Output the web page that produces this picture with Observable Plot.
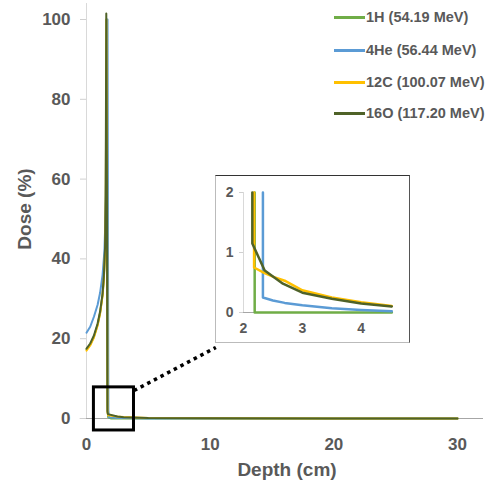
<!DOCTYPE html>
<html>
<head>
<meta charset="utf-8">
<script src="https://cdn.jsdelivr.net/npm/d3@7"></script>
<script src="https://cdn.jsdelivr.net/npm/@observablehq/plot@0.6"></script>
<style>
  html, body { margin: 0; padding: 0; background: #fff; overflow: hidden; }
  #wrap { position: relative; width: 486px; height: 482px; overflow: hidden; font-family: "Liberation Sans", Arial, sans-serif; }
  #main { position: absolute; left: 0; top: 0; }
  .lbl { position: absolute; font-weight: bold; color: #595959; font-size: 19px; white-space: nowrap; }
  #inset { position: absolute; left: 215px; top: 175px; width: 195px; height: 168px; background: #fff; }
  #insetBorder { position: absolute; left: 215px; top: 175px; width: 195px; height: 168px; box-sizing: border-box;
    border-top: 1.5px solid #333; border-right: 1.5px solid #555; border-bottom: 1.5px solid #bbb; border-left: 1.5px solid #bbb; }
  #legend { position: absolute; left: 334px; top: 0; }
  .row { position: absolute; left: 0; height: 20px; white-space: nowrap; }
  .row .sw { position: absolute; left: 0; top: 9px; width: 31px; height: 2.5px; }
  .row .tx { position: absolute; left: 32px; top: 0; font-size: 14.5px; font-weight: bold; color: #595959; line-height: 20px; }
</style>
</head>
<body>
<div id="wrap">
  <div id="main"></div>
  <div class="lbl" id="ylab" style="left:25px; top:209px; transform: translate(-50%,-50%) rotate(-90deg);">Dose (%)</div>
  <div class="lbl" id="xlab" style="left:287px; top:470px; transform: translate(-50%,-50%);">Depth (cm)</div>
  <div id="inset"></div>
  <div id="insetBorder"></div>
  <div id="legend"></div>
</div>
<script>
// ---- series names & colours ----
const seriesNames = ["1H (54.19 MeV)", "4He (56.44 MeV)", "12C (100.07 MeV)", "16O (117.20 MeV)"];
const seriesColors = ["#70AD47", "#5B9BD5", "#FFC000", "#4F6228"];

// ---- main chart: depth (cm) / dose (%) ----
const depthH  = [0, 0.3, 0.6, 0.9, 1.1, 1.3, 1.4, 1.5, 1.56, 1.62, 1.67, 1.71, 1.75, 2, 3, 5, 10, 20, 30];
const doseH   = [17.3, 18.5, 20.5, 23.5, 26.5, 31, 35, 42, 55, 100, 60, 3, 0.3, 0, 0, 0, 0, 0, 0];

const depthHe = [0, 0.3, 0.6, 0.9, 1.1, 1.3, 1.45, 1.55, 1.63, 1.7, 1.74, 1.77, 1.82, 2.5, 3, 5, 10, 20, 30];
const doseHe  = [21.5, 23, 25.5, 28.5, 31.5, 36, 42, 52, 72, 100, 40, 2, 0.3, 0.15, 0.1, 0.03, 0.01, 0, 0];

const depthC  = [0, 0.3, 0.6, 0.9, 1.1, 1.3, 1.4, 1.5, 1.56, 1.61, 1.66, 1.7, 1.75, 2.5, 3, 5, 10, 20, 30];
const doseC   = [17, 18.3, 20.3, 23.3, 26.3, 30.8, 34.8, 41.5, 55, 100, 60, 1.5, 0.8, 0.5, 0.35, 0.12, 0.05, 0.02, 0.01];

const depthO  = [0, 0.3, 0.6, 0.9, 1.1, 1.3, 1.4, 1.5, 1.55, 1.6, 1.65, 1.69, 1.73, 2.5, 3, 5, 10, 20, 30];
const doseO   = [17.5, 18.8, 20.8, 23.8, 26.8, 31.3, 35.5, 43, 56, 101.5, 60, 1.8, 1.1, 0.5, 0.33, 0.1, 0.04, 0.02, 0.01];

// ---- inset: depth (cm) / dose (%) ----
const inDepthH  = [2.19, 2.19, 4.52];
const inDoseH   = [2, 0, 0];
const inDepthHe = [2.33, 2.33, 2.5, 2.7, 3.0, 3.5, 4.0, 4.52];
const inDoseHe  = [2, 0.25, 0.2, 0.16, 0.12, 0.07, 0.04, 0.02];
const inDepthC  = [2.18, 2.18, 2.35, 2.52, 2.7, 3.0, 3.5, 4.0, 4.52];
const inDoseC   = [2, 0.75, 0.66, 0.59, 0.53, 0.37, 0.25, 0.17, 0.11];
const inDepthO  = [2.15, 2.15, 2.36, 2.67, 3.0, 3.5, 4.0, 4.52];
const inDoseO   = [2, 1.15, 0.7, 0.48, 0.33, 0.23, 0.15, 0.1];

// ---- ticks ----
const xTicks = [0, 10, 20, 30];
const yTicks = [0, 20, 40, 60, 80, 100];
const inXTicks = [2, 3, 4];
const inYTicks = [0, 1, 2];

// ---- zoom box annotation (data coords) ----
const zoomBox = [{x1: 0.6, x2: 3.84, y1: -3, y2: 7.8}];
const zoomLink = [{x1: 3.84, y1: 7.0, x2: 10.46, y2: 17.8}];

const toPts = (xs, ys) => xs.map((x, i) => ({d: x, v: ys[i]}));
const mainSeries = [toPts(depthH, doseH), toPts(depthHe, doseHe), toPts(depthC, doseC), toPts(depthO, doseO)];
const insetSeries = [toPts(inDepthH, inDoseH), toPts(inDepthHe, inDoseHe), toPts(inDepthC, inDoseC), toPts(inDepthO, inDoseO)];

const font = "Liberation Sans, Arial, sans-serif";
const fmt = d => String(d);

const main = Plot.plot({
  width: 486, height: 482,
  marginLeft: 86, marginRight: 3, marginTop: 19, marginBottom: 64,
  style: {fontFamily: font, background: "white", overflow: "visible"},
  x: {domain: [0, 32.1]},
  y: {domain: [0, 100]},
  marks: [
    Plot.ruleX([0], {y1: 0, y2: 104, stroke: "#d9d9d9"}),
    Plot.ruleY([0], {x1: -0.5, x2: 32.1, stroke: "#a6a6a6"}),
    Plot.axisY({ticks: yTicks, tickFormat: fmt, tickSize: 6, tickPadding: 10, stroke: "#d0d0d0", fill: "#595959", fontSize: 17, fontWeight: "bold", label: null}),
    Plot.axisX({ticks: xTicks, tickFormat: fmt, tickSize: 0, tickPadding: 19, fill: "#595959", fontSize: 17, fontWeight: "bold", label: null}),
    ...mainSeries.map((pts, i) => Plot.line(pts, {x: "d", y: "v", stroke: seriesColors[i], strokeWidth: 2})),
    Plot.rect(zoomBox, {x1: "x1", x2: "x2", y1: "y1", y2: "y2", fill: "none", stroke: "black", strokeWidth: 3}),
    Plot.link(zoomLink, {x1: "x1", y1: "y1", x2: "x2", y2: "y2", stroke: "black", strokeWidth: 3.5, strokeDasharray: "3.5,4"})
  ]
});
document.getElementById("main").appendChild(main);

const inset = Plot.plot({
  width: 195, height: 168,
  marginLeft: 28, marginRight: 14, marginTop: 17, marginBottom: 31,
  style: {fontFamily: font, background: "white", overflow: "visible"},
  x: {domain: [2, 4.6]},
  y: {domain: [0, 2]},
  marks: [
    Plot.ruleX([2], {y1: 0, y2: 2, stroke: "#d9d9d9"}),
    Plot.ruleY([0], {x1: 1.95, x2: 4.55, stroke: "#a6a6a6"}),
    Plot.axisY({ticks: inYTicks, tickFormat: fmt, tickSize: 4, tickPadding: 6, stroke: "#d0d0d0", fill: "#595959", fontSize: 14, fontWeight: "bold", label: null}),
    Plot.axisX({ticks: inXTicks, tickFormat: fmt, tickSize: 0, tickPadding: 11, fill: "#595959", fontSize: 14, fontWeight: "bold", label: null}),
    ...insetSeries.map((pts, i) => Plot.line(pts, {x: "d", y: "v", stroke: seriesColors[i], strokeWidth: 2.5}))
  ]
});
document.getElementById("inset").appendChild(inset);

// legend
const legend = document.getElementById("legend");
const rowTops = [7, 40, 72, 103];
seriesNames.forEach((name, i) => {
  const row = document.createElement("div");
  row.className = "row";
  row.style.top = rowTops[i] + "px";
  row.innerHTML = `<div class="sw" style="background:${seriesColors[i]}"></div><div class="tx">${name}</div>`;
  legend.appendChild(row);
});
</script>
</body>
</html>
